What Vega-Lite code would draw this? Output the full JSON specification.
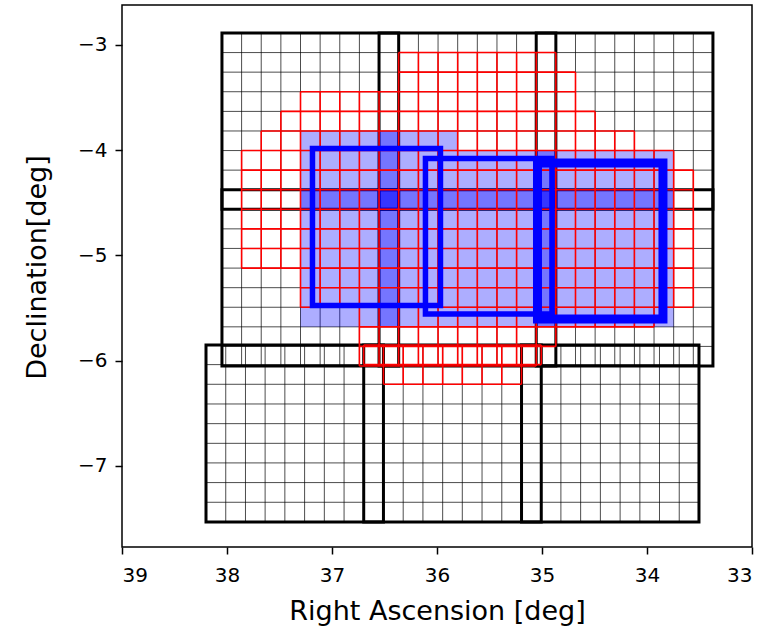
{
  "$schema": "https://vega.github.io/schema/vega-lite/v6.json",
  "width": 630,
  "height": 542,
  "autosize": {"type": "none"},
  "padding": {"left": 122, "top": 5, "right": 22, "bottom": 87},
  "background": "white",
  "config": {
    "view": {"stroke": "black", "strokeWidth": 1.5},
    "axis": {
      "domain": false, "grid": false, "ticks": true, "tickColor": "black", "tickSize": 7, "tickWidth": 1.5,
      "labelFont": "DejaVu Sans", "labelFontSize": 20, "labelColor": "black",
      "titleFont": "DejaVu Sans", "titleFontSize": 27, "titleFontWeight": "normal", "titleColor": "black"
    }
  },
  "datasets": {
    "gridTop": [
      {"ra": 38.048, "ra2": 38.048, "dec": -2.886, "dec2": -6.05},
      {"ra": 37.861, "ra2": 37.861, "dec": -2.886, "dec2": -6.05},
      {"ra": 37.674, "ra2": 37.674, "dec": -2.886, "dec2": -6.05},
      {"ra": 37.487, "ra2": 37.487, "dec": -2.886, "dec2": -6.05},
      {"ra": 37.3, "ra2": 37.3, "dec": -2.886, "dec2": -6.05},
      {"ra": 37.113, "ra2": 37.113, "dec": -2.886, "dec2": -6.05},
      {"ra": 36.926, "ra2": 36.926, "dec": -2.886, "dec2": -6.05},
      {"ra": 36.739, "ra2": 36.739, "dec": -2.886, "dec2": -6.05},
      {"ra": 36.552, "ra2": 36.552, "dec": -2.886, "dec2": -6.05},
      {"ra": 36.365, "ra2": 36.365, "dec": -2.886, "dec2": -6.05},
      {"ra": 36.177, "ra2": 36.177, "dec": -2.886, "dec2": -6.05},
      {"ra": 35.99, "ra2": 35.99, "dec": -2.886, "dec2": -6.05},
      {"ra": 35.803, "ra2": 35.803, "dec": -2.886, "dec2": -6.05},
      {"ra": 35.616, "ra2": 35.616, "dec": -2.886, "dec2": -6.05},
      {"ra": 35.429, "ra2": 35.429, "dec": -2.886, "dec2": -6.05},
      {"ra": 35.242, "ra2": 35.242, "dec": -2.886, "dec2": -6.05},
      {"ra": 35.055, "ra2": 35.055, "dec": -2.886, "dec2": -6.05},
      {"ra": 34.868, "ra2": 34.868, "dec": -2.886, "dec2": -6.05},
      {"ra": 34.681, "ra2": 34.681, "dec": -2.886, "dec2": -6.05},
      {"ra": 34.494, "ra2": 34.494, "dec": -2.886, "dec2": -6.05},
      {"ra": 34.307, "ra2": 34.307, "dec": -2.886, "dec2": -6.05},
      {"ra": 34.12, "ra2": 34.12, "dec": -2.886, "dec2": -6.05},
      {"ra": 33.933, "ra2": 33.933, "dec": -2.886, "dec2": -6.05},
      {"ra": 33.746, "ra2": 33.746, "dec": -2.886, "dec2": -6.05},
      {"ra": 33.559, "ra2": 33.559, "dec": -2.886, "dec2": -6.05},
      {"ra": 33.372, "ra2": 33.372, "dec": -2.886, "dec2": -6.05},
      {"ra": 38.048, "ra2": 33.372, "dec": -2.886, "dec2": -2.886},
      {"ra": 38.048, "ra2": 33.372, "dec": -3.072, "dec2": -3.072},
      {"ra": 38.048, "ra2": 33.372, "dec": -3.258, "dec2": -3.258},
      {"ra": 38.048, "ra2": 33.372, "dec": -3.444, "dec2": -3.444},
      {"ra": 38.048, "ra2": 33.372, "dec": -3.631, "dec2": -3.631},
      {"ra": 38.048, "ra2": 33.372, "dec": -3.817, "dec2": -3.817},
      {"ra": 38.048, "ra2": 33.372, "dec": -4.003, "dec2": -4.003},
      {"ra": 38.048, "ra2": 33.372, "dec": -4.189, "dec2": -4.189},
      {"ra": 38.048, "ra2": 33.372, "dec": -4.375, "dec2": -4.375},
      {"ra": 38.048, "ra2": 33.372, "dec": -4.561, "dec2": -4.561},
      {"ra": 38.048, "ra2": 33.372, "dec": -4.747, "dec2": -4.747},
      {"ra": 38.048, "ra2": 33.372, "dec": -4.933, "dec2": -4.933},
      {"ra": 38.048, "ra2": 33.372, "dec": -5.12, "dec2": -5.12},
      {"ra": 38.048, "ra2": 33.372, "dec": -5.306, "dec2": -5.306},
      {"ra": 38.048, "ra2": 33.372, "dec": -5.492, "dec2": -5.492},
      {"ra": 38.048, "ra2": 33.372, "dec": -5.678, "dec2": -5.678},
      {"ra": 38.048, "ra2": 33.372, "dec": -5.864, "dec2": -5.864},
      {"ra": 38.048, "ra2": 33.372, "dec": -6.05, "dec2": -6.05}
    ],
    "gridBottom": [
      {"ra": 38.2, "ra2": 38.2, "dec": -5.85, "dec2": -7.532},
      {"ra": 38.012, "ra2": 38.012, "dec": -5.85, "dec2": -7.532},
      {"ra": 37.824, "ra2": 37.824, "dec": -5.85, "dec2": -7.532},
      {"ra": 37.637, "ra2": 37.637, "dec": -5.85, "dec2": -7.532},
      {"ra": 37.449, "ra2": 37.449, "dec": -5.85, "dec2": -7.532},
      {"ra": 37.261, "ra2": 37.261, "dec": -5.85, "dec2": -7.532},
      {"ra": 37.073, "ra2": 37.073, "dec": -5.85, "dec2": -7.532},
      {"ra": 36.885, "ra2": 36.885, "dec": -5.85, "dec2": -7.532},
      {"ra": 36.698, "ra2": 36.698, "dec": -5.85, "dec2": -7.532},
      {"ra": 36.51, "ra2": 36.51, "dec": -5.85, "dec2": -7.532},
      {"ra": 36.322, "ra2": 36.322, "dec": -5.85, "dec2": -7.532},
      {"ra": 36.134, "ra2": 36.134, "dec": -5.85, "dec2": -7.532},
      {"ra": 35.946, "ra2": 35.946, "dec": -5.85, "dec2": -7.532},
      {"ra": 35.759, "ra2": 35.759, "dec": -5.85, "dec2": -7.532},
      {"ra": 35.571, "ra2": 35.571, "dec": -5.85, "dec2": -7.532},
      {"ra": 35.383, "ra2": 35.383, "dec": -5.85, "dec2": -7.532},
      {"ra": 35.195, "ra2": 35.195, "dec": -5.85, "dec2": -7.532},
      {"ra": 35.007, "ra2": 35.007, "dec": -5.85, "dec2": -7.532},
      {"ra": 34.82, "ra2": 34.82, "dec": -5.85, "dec2": -7.532},
      {"ra": 34.632, "ra2": 34.632, "dec": -5.85, "dec2": -7.532},
      {"ra": 34.444, "ra2": 34.444, "dec": -5.85, "dec2": -7.532},
      {"ra": 34.256, "ra2": 34.256, "dec": -5.85, "dec2": -7.532},
      {"ra": 34.068, "ra2": 34.068, "dec": -5.85, "dec2": -7.532},
      {"ra": 33.881, "ra2": 33.881, "dec": -5.85, "dec2": -7.532},
      {"ra": 33.693, "ra2": 33.693, "dec": -5.85, "dec2": -7.532},
      {"ra": 33.505, "ra2": 33.505, "dec": -5.85, "dec2": -7.532},
      {"ra": 38.2, "ra2": 33.505, "dec": -5.85, "dec2": -5.85},
      {"ra": 38.2, "ra2": 33.505, "dec": -6.037, "dec2": -6.037},
      {"ra": 38.2, "ra2": 33.505, "dec": -6.224, "dec2": -6.224},
      {"ra": 38.2, "ra2": 33.505, "dec": -6.411, "dec2": -6.411},
      {"ra": 38.2, "ra2": 33.505, "dec": -6.598, "dec2": -6.598},
      {"ra": 38.2, "ra2": 33.505, "dec": -6.785, "dec2": -6.785},
      {"ra": 38.2, "ra2": 33.505, "dec": -6.971, "dec2": -6.971},
      {"ra": 38.2, "ra2": 33.505, "dec": -7.158, "dec2": -7.158},
      {"ra": 38.2, "ra2": 33.505, "dec": -7.345, "dec2": -7.345},
      {"ra": 38.2, "ra2": 33.505, "dec": -7.532, "dec2": -7.532}
    ],
    "tiles": [
      {"ra": 38.048, "ra2": 36.365, "dec": -2.886, "dec2": -4.561},
      {"ra": 36.552, "ra2": 34.868, "dec": -2.886, "dec2": -4.561},
      {"ra": 35.055, "ra2": 33.372, "dec": -2.886, "dec2": -4.561},
      {"ra": 38.048, "ra2": 36.365, "dec": -4.375, "dec2": -6.05},
      {"ra": 36.552, "ra2": 34.868, "dec": -4.375, "dec2": -6.05},
      {"ra": 35.055, "ra2": 33.372, "dec": -4.375, "dec2": -6.05},
      {"ra": 38.2, "ra2": 36.51, "dec": -5.85, "dec2": -7.532},
      {"ra": 36.698, "ra2": 35.007, "dec": -5.85, "dec2": -7.532},
      {"ra": 35.195, "ra2": 33.505, "dec": -5.85, "dec2": -7.532}
    ],
    "blueFill": [
      {"ra": 37.3, "ra2": 36.365, "dec": -3.817, "dec2": -4.561},
      {"ra": 37.3, "ra2": 36.365, "dec": -4.375, "dec2": -5.678},
      {"ra": 36.552, "ra2": 35.803, "dec": -3.817, "dec2": -4.561},
      {"ra": 35.803, "ra2": 34.868, "dec": -4.003, "dec2": -4.561},
      {"ra": 36.552, "ra2": 34.868, "dec": -4.375, "dec2": -5.678},
      {"ra": 35.055, "ra2": 33.746, "dec": -4.003, "dec2": -4.561},
      {"ra": 35.055, "ra2": 33.746, "dec": -4.375, "dec2": -5.678}
    ],
    "redLines": [
      {"ra": 36.365, "ra2": 34.868, "dec": -3.072, "dec2": -3.072},
      {"ra": 36.365, "ra2": 34.681, "dec": -3.258, "dec2": -3.258},
      {"ra": 37.3, "ra2": 34.681, "dec": -3.444, "dec2": -3.444},
      {"ra": 37.487, "ra2": 34.494, "dec": -3.631, "dec2": -3.631},
      {"ra": 37.674, "ra2": 34.12, "dec": -3.817, "dec2": -3.817},
      {"ra": 37.861, "ra2": 33.746, "dec": -4.003, "dec2": -4.003},
      {"ra": 37.861, "ra2": 33.559, "dec": -4.189, "dec2": -4.189},
      {"ra": 37.861, "ra2": 33.559, "dec": -4.375, "dec2": -4.375},
      {"ra": 37.861, "ra2": 33.559, "dec": -4.561, "dec2": -4.561},
      {"ra": 37.861, "ra2": 33.559, "dec": -4.747, "dec2": -4.747},
      {"ra": 37.861, "ra2": 33.559, "dec": -4.933, "dec2": -4.933},
      {"ra": 37.861, "ra2": 33.559, "dec": -5.12, "dec2": -5.12},
      {"ra": 37.3, "ra2": 33.559, "dec": -5.306, "dec2": -5.306},
      {"ra": 37.3, "ra2": 33.559, "dec": -5.492, "dec2": -5.492},
      {"ra": 36.739, "ra2": 33.933, "dec": -5.678, "dec2": -5.678},
      {"ra": 36.739, "ra2": 34.868, "dec": -5.864, "dec2": -5.864},
      {"ra": 36.739, "ra2": 35.055, "dec": -6.05, "dec2": -6.05},
      {"ra": 37.861, "ra2": 37.861, "dec": -4.003, "dec2": -5.12},
      {"ra": 37.674, "ra2": 37.674, "dec": -3.817, "dec2": -5.12},
      {"ra": 37.487, "ra2": 37.487, "dec": -3.631, "dec2": -5.12},
      {"ra": 37.3, "ra2": 37.3, "dec": -3.444, "dec2": -5.492},
      {"ra": 37.113, "ra2": 37.113, "dec": -3.444, "dec2": -5.492},
      {"ra": 36.926, "ra2": 36.926, "dec": -3.444, "dec2": -5.492},
      {"ra": 36.739, "ra2": 36.739, "dec": -3.444, "dec2": -6.05},
      {"ra": 36.552, "ra2": 36.552, "dec": -3.444, "dec2": -6.05},
      {"ra": 36.365, "ra2": 36.365, "dec": -3.072, "dec2": -6.05},
      {"ra": 36.177, "ra2": 36.177, "dec": -3.072, "dec2": -6.05},
      {"ra": 35.99, "ra2": 35.99, "dec": -3.072, "dec2": -6.05},
      {"ra": 35.803, "ra2": 35.803, "dec": -3.072, "dec2": -6.05},
      {"ra": 35.616, "ra2": 35.616, "dec": -3.072, "dec2": -6.05},
      {"ra": 35.429, "ra2": 35.429, "dec": -3.072, "dec2": -6.05},
      {"ra": 35.242, "ra2": 35.242, "dec": -3.072, "dec2": -6.05},
      {"ra": 35.055, "ra2": 35.055, "dec": -3.072, "dec2": -6.05},
      {"ra": 34.868, "ra2": 34.868, "dec": -3.072, "dec2": -5.864},
      {"ra": 34.681, "ra2": 34.681, "dec": -3.258, "dec2": -5.678},
      {"ra": 34.494, "ra2": 34.494, "dec": -3.631, "dec2": -5.678},
      {"ra": 34.307, "ra2": 34.307, "dec": -3.817, "dec2": -5.678},
      {"ra": 34.12, "ra2": 34.12, "dec": -3.817, "dec2": -5.678},
      {"ra": 33.933, "ra2": 33.933, "dec": -4.003, "dec2": -5.678},
      {"ra": 33.746, "ra2": 33.746, "dec": -4.003, "dec2": -5.492},
      {"ra": 33.559, "ra2": 33.559, "dec": -4.189, "dec2": -5.492},
      {"ra": 36.698, "ra2": 35.007, "dec": -5.85, "dec2": -5.85},
      {"ra": 36.698, "ra2": 35.007, "dec": -6.037, "dec2": -6.037},
      {"ra": 36.51, "ra2": 35.195, "dec": -6.224, "dec2": -6.224},
      {"ra": 36.698, "ra2": 36.698, "dec": -5.85, "dec2": -6.037},
      {"ra": 36.51, "ra2": 36.51, "dec": -5.85, "dec2": -6.224},
      {"ra": 36.322, "ra2": 36.322, "dec": -5.85, "dec2": -6.224},
      {"ra": 36.134, "ra2": 36.134, "dec": -5.85, "dec2": -6.224},
      {"ra": 35.946, "ra2": 35.946, "dec": -5.85, "dec2": -6.224},
      {"ra": 35.759, "ra2": 35.759, "dec": -5.85, "dec2": -6.224},
      {"ra": 35.571, "ra2": 35.571, "dec": -5.85, "dec2": -6.224},
      {"ra": 35.383, "ra2": 35.383, "dec": -5.85, "dec2": -6.224},
      {"ra": 35.195, "ra2": 35.195, "dec": -5.85, "dec2": -6.224},
      {"ra": 35.007, "ra2": 35.007, "dec": -5.85, "dec2": -6.037}
    ],
    "pointings": [
      {"name": "P1", "kind": "thin", "ra": 37.186, "ra2": 35.967, "dec": -3.983, "dec2": -5.475},
      {"name": "P2", "kind": "thin", "ra": 36.11, "ra2": 34.905, "dec": -4.078, "dec2": -5.556},
      {"name": "P3", "kind": "thick", "ra": 35.043, "ra2": 33.848, "dec": -4.121, "dec2": -5.603}
    ]
  },
  "encoding": {
    "x": {"field": "ra", "type": "quantitative", "scale": {"domain": [39, 33], "nice": false, "zero": false},
          "axis": {"title": "Right Ascension [deg]", "values": [39, 38, 37, 36, 35, 34, 33], "format": "d", "labelPadding": 11, "titleY": 64, "titleBaseline": "middle"}},
    "x2": {"field": "ra2"},
    "y": {"field": "dec", "type": "quantitative", "scale": {"domain": [-7.77, -2.62], "nice": false, "zero": false},
          "axis": {"title": "Declination[deg]", "values": [-3, -4, -5, -6, -7], "format": "d", "labelPadding": 8, "titleX": -85, "titleY": 262, "titleAngle": -90, "titleAlign": "center", "titleBaseline": "middle"}},
    "y2": {"field": "dec2"}
  },
  "layer": [
    {
      "data": {"name": "gridTop"},
      "mark": {"type": "rule", "color": "black", "strokeWidth": 1, "opacity": 0.7}
    },
    {
      "data": {"name": "gridBottom"},
      "mark": {"type": "rule", "color": "black", "strokeWidth": 1, "opacity": 0.7}
    },
    {
      "data": {"name": "tiles"},
      "mark": {"type": "rect", "fillOpacity": 0, "stroke": "black", "strokeWidth": 3}
    },
    {
      "data": {"name": "blueFill"},
      "mark": {"type": "rect", "fill": "blue", "fillOpacity": 0.32, "strokeWidth": 0}
    },
    {
      "data": {"name": "redLines"},
      "mark": {"type": "rule", "color": "red", "strokeWidth": 1.6}
    },
    {
      "data": {"name": "pointings"},
      "mark": {"type": "rect", "fillOpacity": 0, "stroke": "blue"},
      "encoding": {
        "strokeWidth": {"field": "kind", "type": "nominal", "scale": {"domain": ["thin", "thick"], "range": [5.5, 9]}, "legend": null}
      }
    }
  ]
}
